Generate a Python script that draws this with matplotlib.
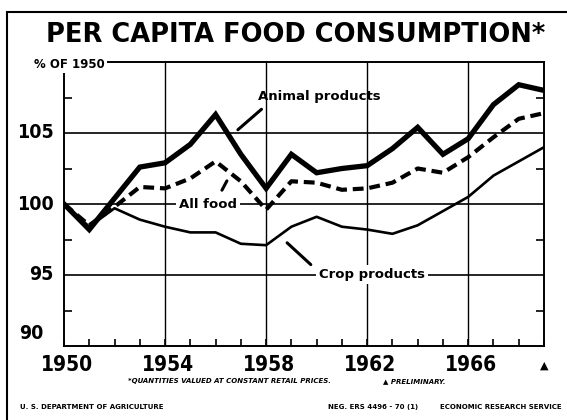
import matplotlib.pyplot as plt
from matplotlib.patches import Rectangle

years = list(range(1950, 1970))
animal = [100.0, 98.2, 100.4, 102.6, 102.9, 104.2, 106.3, 103.5, 101.1, 103.5,
          102.2, 102.5, 102.7, 103.9, 105.4, 103.5, 104.6, 107.0, 108.4, 108.0]
all_food = [100.0, 98.5, 99.8, 101.2, 101.1, 101.8, 103.0, 101.6, 99.6, 101.6,
            101.5, 101.0, 101.1, 101.5, 102.5, 102.2, 103.3, 104.7, 106.0, 106.4]
crop = [100.0, 98.4, 99.7, 98.9, 98.4, 98.0, 98.0, 97.2, 97.1, 98.4,
        99.1, 98.4, 98.2, 97.9, 98.5, 99.5, 100.5, 102.0, 103.0, 104.0]

year_ticks = [1950, 1954, 1958, 1962, 1966]
value_ticks = [95, 100, 105]

W, H = 567, 420
fig = plt.figure(figsize=(W / 100, H / 100), dpi=100)
ax = fig.add_axes([64 / W, 1 - 346 / H, (544 - 64) / W, (346 - 62) / H])

def fx(px):
    return px / W

def fy(py):
    return 1 - py / H

bold = dict(fontweight='bold', family='DejaVu Sans')
big = dict(fontweight='bold', family='DejaVu Sans', fontstretch='condensed')

# outer frame of the page
fig.patches.append(Rectangle((fx(7), fy(600)), 2, fy(12) - fy(600),
                             transform=fig.transFigure, fill=False,
                             edgecolor='black', linewidth=1.5))

ax.set_xlim(1950, 1969)
ax.set_ylim(90, 110)

# grid
for yr in [1954, 1958, 1962, 1966]:
    ax.axvline(yr, color='black', lw=1.0, zorder=1)
for v in value_ticks:
    ax.axhline(v, color='black', lw=1.2, zorder=1)

ax.plot(years, crop, color='black', lw=1.9, zorder=3, solid_joinstyle='round')
ax.plot(years, all_food, color='black', lw=3.0, dashes=(2.6, 1.4), zorder=4)
ax.plot(years, animal, color='black', lw=3.8, zorder=5, solid_joinstyle='miter')

for s in ax.spines.values():
    s.set_linewidth(1.4)

ax.set_xticks(years)
ax.set_xticklabels([])
ax.set_yticks([92.5, 97.5, 102.5, 107.5])
ax.set_yticklabels([])
ax.tick_params(axis='x', direction='in', length=5, width=1.2, top=False)
ax.tick_params(axis='y', direction='in', length=6, width=1.2, left=True, right=True)

for yr in year_ticks:
    ax.text(yr + 0.1, 89.4, str(yr), ha='center', va='top', fontsize=15, **big)
ax.text(1969, 89.0, '▲', ha='center', va='top', fontsize=8, family='DejaVu Sans')

for v in value_ticks:
    ax.text(1949.6, v, str(v), ha='right', va='center', fontsize=14, **big)
ax.text(1949.2, 90.9, '90', ha='right', va='center', fontsize=14, **big)

ax.text(1948.8, 109.8, '% OF 1950', ha='left', va='center', fontsize=8.5,
        bbox=dict(facecolor='white', edgecolor='none', pad=1.5),
        clip_on=False, zorder=10, **bold)

# series labels
ax.text(1960.1, 107.6, 'Animal products', ha='center', va='center', fontsize=9.5,
        zorder=6, **bold)
ax.annotate('', xy=(1956.8, 105.1), xytext=(1957.9, 106.8),
            arrowprops=dict(arrowstyle='-', lw=2.2, color='black'))
ax.text(1955.7, 99.95, 'All food', ha='center', va='center', fontsize=9.5,
        bbox=dict(facecolor='white', edgecolor='none', pad=2), zorder=6, **bold)
ax.annotate('', xy=(1956.5, 101.8), xytext=(1956.2, 100.8),
            arrowprops=dict(arrowstyle='-', lw=2.2, color='black'))
ax.text(1962.2, 95.05, 'Crop products', ha='center', va='center', fontsize=9.5,
        bbox=dict(facecolor='white', edgecolor='none', pad=2), zorder=6, **bold)
ax.annotate('', xy=(1958.75, 97.4), xytext=(1959.85, 95.6),
            arrowprops=dict(arrowstyle='-', lw=2.2, color='black'))

fig.text(fx(296), fy(35), 'PER CAPITA FOOD CONSUMPTION*', ha='center', va='center',
         fontsize=18.5, **bold)

fig.text(fx(128), fy(381), '*QUANTITIES VALUED AT CONSTANT RETAIL PRICES.',
         ha='left', va='center', fontsize=5, style='italic', **bold)
fig.text(fx(383), fy(381), '▲ PRELIMINARY.', ha='left', va='center',
         fontsize=5, style='italic', **bold)
fig.text(fx(20), fy(407), 'U. S. DEPARTMENT OF AGRICULTURE', ha='left', va='center',
         fontsize=5, **bold)
fig.text(fx(328), fy(407), 'NEG. ERS 4496 - 70 (1)', ha='left', va='center',
         fontsize=5, **bold)
fig.text(fx(562), fy(407), 'ECONOMIC RESEARCH SERVICE', ha='right', va='center',
         fontsize=5, **bold)

fig.savefig('out.png', dpi=100, facecolor='white')
